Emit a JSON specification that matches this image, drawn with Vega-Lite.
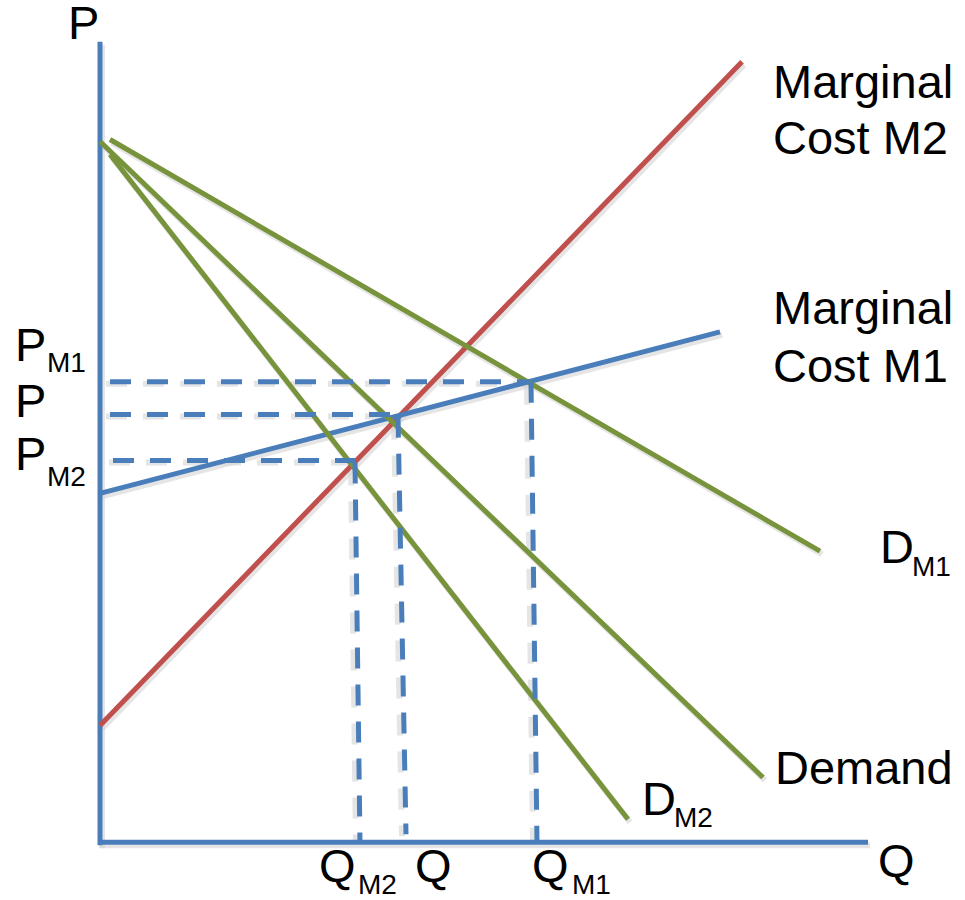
{
  "$schema": "https://vega.github.io/schema/vega-lite/v6.json",
  "width": 965,
  "height": 900,
  "padding": 0,
  "autosize": {"type": "fit", "contains": "padding"},
  "background": "white",
  "config": {"view": {"stroke": null}},
  "datasets": {
    "solid": [
      {"series": "axisY", "q": 0, "p": 803, "q2": 0, "p2": -3},
      {"series": "axisX", "q": -2, "p": 0, "q2": 768, "p2": 0},
      {"series": "MC M2", "q": 0, "p": 117, "q2": 642, "p2": 783},
      {"series": "MC M1", "q": 0, "p": 350, "q2": 620, "p2": 512},
      {"series": "D M1", "q": 10, "p": 705, "q2": 720, "p2": 292},
      {"series": "Demand", "q": 0, "p": 703, "q2": 663, "p2": 65},
      {"series": "D M2", "q": 10, "p": 690, "q2": 528, "p2": 23}
    ],
    "dashed": [
      {"series": "guide", "q": 10, "p": 462, "q2": 430, "p2": 462},
      {"series": "guide", "q": 431, "p": 462, "q2": 437, "p2": 0},
      {"series": "guide", "q": 10, "p": 429, "q2": 298, "p2": 429},
      {"series": "guide", "q": 298, "p": 427, "q2": 306, "p2": 8},
      {"series": "guide", "q": 13, "p": 383, "q2": 255, "p2": 383},
      {"series": "guide", "q": 255, "p": 381, "q2": 260, "p2": 0}
    ],
    "labels": [
      {"label": "P", "q": -32, "p": 806},
      {"label": "Marginal", "q": 673, "p": 747},
      {"label": "Cost M2", "q": 673, "p": 690},
      {"label": "Marginal", "q": 673, "p": 520},
      {"label": "Cost M1", "q": 673, "p": 462},
      {"label": "D", "q": 780, "p": 280},
      {"label": "Demand", "q": 675, "p": 58},
      {"label": "D", "q": 542, "p": 27},
      {"label": "Q", "q": 778, "p": -35},
      {"label": "Q", "q": 219, "p": -40},
      {"label": "Q", "q": 315, "p": -40},
      {"label": "Q", "q": 432, "p": -40},
      {"label": "P", "q": -85, "p": 483},
      {"label": "P", "q": -85, "p": 427},
      {"label": "P", "q": -85, "p": 373}
    ],
    "subs": [
      {"label": "M1", "q": 812, "p": 267},
      {"label": "M2", "q": 574, "p": 15},
      {"label": "M2", "q": 258, "p": -52},
      {"label": "M1", "q": 472, "p": -52},
      {"label": "M1", "q": -53, "p": 472},
      {"label": "M2", "q": -53, "p": 357}
    ]
  },
  "encoding": {
    "x": {"field": "q", "type": "quantitative", "scale": {"domain": [-100, 865], "nice": false, "zero": false}, "axis": null},
    "y": {"field": "p", "type": "quantitative", "scale": {"domain": [-55, 845], "nice": false, "zero": false}, "axis": null}
  },
  "layer": [
    {
      "data": {"name": "solid"},
      "mark": {"type": "rule", "strokeWidth": 6, "color": "#d4d4d4", "opacity": 0.6, "xOffset": 2, "x2Offset": 2, "yOffset": 3, "y2Offset": 3, "strokeCap": "butt"},
      "encoding": {"x2": {"field": "q2"}, "y2": {"field": "p2"}}
    },
    {
      "data": {"name": "dashed"},
      "mark": {"type": "rule", "strokeWidth": 6, "color": "#d4d4d4", "opacity": 0.6, "xOffset": -4, "x2Offset": -4, "yOffset": 2, "y2Offset": 2, "strokeDash": [21, 16], "strokeCap": "butt"},
      "encoding": {"x2": {"field": "q2"}, "y2": {"field": "p2"}}
    },
    {
      "data": {"name": "solid"},
      "mark": {"type": "rule", "strokeWidth": 5, "strokeCap": "butt"},
      "encoding": {
        "x2": {"field": "q2"},
        "y2": {"field": "p2"},
        "color": {"field": "series", "type": "nominal", "legend": null,
          "scale": {"domain": ["axisY", "axisX", "MC M2", "MC M1", "D M1", "Demand", "D M2", "guide"],
                    "range": ["#4A7EBB", "#4A7EBB", "#C0504D", "#4A7EBB", "#77933C", "#77933C", "#77933C", "#4A7EBB"]}}
      }
    },
    {
      "data": {"name": "dashed"},
      "mark": {"type": "rule", "strokeWidth": 5, "strokeDash": [21, 16], "strokeCap": "butt"},
      "encoding": {
        "x2": {"field": "q2"},
        "y2": {"field": "p2"},
        "color": {"field": "series", "type": "nominal", "legend": null}
      }
    },
    {
      "data": {"name": "labels"},
      "mark": {"type": "text", "align": "left", "baseline": "alphabetic", "font": "Liberation Sans", "fontSize": 47, "color": "black"},
      "encoding": {"text": {"field": "label"}}
    },
    {
      "data": {"name": "subs"},
      "mark": {"type": "text", "align": "left", "baseline": "alphabetic", "font": "Liberation Sans", "fontSize": 28, "color": "black"},
      "encoding": {"text": {"field": "label"}}
    }
  ]
}
